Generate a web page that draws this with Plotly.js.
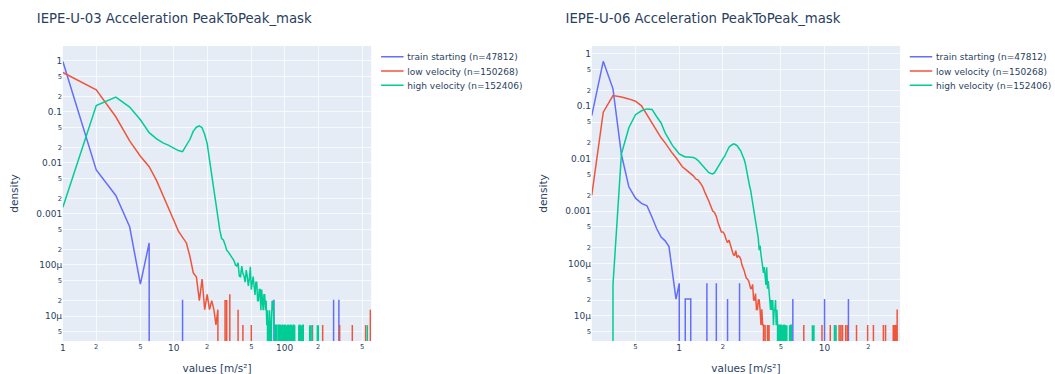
<!DOCTYPE html>
<html>
<head>
<meta charset="utf-8">
<script src="https://cdn.plot.ly/plotly-3.0.1.min.js"></script>
<style>
  html, body { margin: 0; padding: 0; background: #fff; overflow: hidden; }
  #wrap { width: 1407px; height: 499px; transform: scale(0.75); transform-origin: 0 0; }
</style>
</head>
<body>
<div id="wrap"><div id="chart"></div></div>
<script>
// ---------- Titles / labels ----------
const titleLeft = "IEPE-U-03 Acceleration PeakToPeak_mask";
const titleRight = "IEPE-U-06 Acceleration PeakToPeak_mask";
const seriesNames = ["train starting (n=47812)", "low velocity (n=150268)", "high velocity (n=152406)"];
const xTitle = "values [m/s²]";
const yTitle = "density";

// ---------- IEPE-U-03 (left) ----------
const u03TrainX = [1,2,3,4,5,6,7,11,12,13,79,80,81,275,276,277,307,308,309];
const u03TrainY = [0.97,0.0073,0.0023,0.00056,0.000042,0.00027,0,0,0.0000209,0,0,0.0000209,0,0,0.0000209,0,0,0.0000209,0];

const u03LowX = [1,2,3,4,5,6,7,8,9,10,11,12,13,14,15,16,17,18,19,20,21,22,23,24,25,26,
  28,29,30,31,32,33,37,38,39,41,42,43,49,50,51,177,178,179,219,220,221,312,313,314,406,407,408,536,537,538,591,592,593];
const u03LowY = [0.59,0.27,0.08,0.027,0.0135,0.0084,0.0045,0.0023,0.00135,0.00075,0.00046,0.00035,0.00027,0.000145,0.00007,0.000058,0.00002,0.000053,0.0000133,0.0000266,0.0000133,0.00002,0.0000133,0.0000067,0.0000133,0,
  0,0.00002,0.00002,0,0.0000266,0,0,0.0000133,0,0,0.0000067,0,0,0.0000067,0,0,0.0000067,0,0,0.0000067,0,0,0.0000067,0,0,0.0000067,0,0,0.0000067,0,0,0.0000133,0];

const u03HighX = [1,2,3,4,5,6,7,8,9,10,11,12,13,14,15,16,17,18,19,20,21,22,23,24,25,26,27,28,29,30,
  31,32,33,34,35,36,37,38,39,40,41,42,43,44,45,46,47,48,49,50,51,52,53,54,55,56,57,58,59,60,
  61,62,63,64,65,66,67,68,69,70,71,72,73,74,75,76,77,78,79,80,81,82,83,84,85,86,87,88,89,90,
  91,92,93,94,95,96,97,98,99,100,101,102,103,104,105,106,107,108,109,110,111,112,113,114,115,116,117,118,119,120,
  121,122,123,124,
  133,134,135,136,137,138,139,140,141,142,143,144,145,146,147,148,
  167,168,169,170,171,172,175,176,177,196,197,198,199,200,201,202,555,556,557];
const u03HighY = [0.00135,0.133,0.194,0.124,0.07,0.039,0.0295,0.0246,0.022,0.0196,0.0174,0.0166,0.0219,0.029,0.0418,0.05,0.053,0.049,0.036,0.024,
  0.0115,0.0058,0.0029,0.0014,0.00076,0.00048,0.00033,0.00031,0.00025,0.000195,
  0.00018,0.00016,0.000145,0.00013,0.00012,0.0001,0.000095,0.00011,0.00006,0.000059,
  0.000095,0.000068,0.00006,0.000046,0.000079,0.000059,0.000039,0.000053,0.000092,0.000033,
  0.000046,0.000059,0.000039,0.000026,0.000046,0.000046,0.00002,0.00002,0.000033,0.000033,
  0.000013,0.000033,0.00002,0.000013,0.000026,0.000026,0.000013,0.00002,0.0000066,0.000013,
  0,0.0000066,0.000013,0.0000066,0,0.0000066,0.00002,0.000013,0.00002,0.0000066,
  0.0000066,0,0.0000066,0.0000066,0,0.0000066,0.0000066,0.0000066,0,0.0000066,
  0.0000066,0,0.0000066,0,0.0000066,0.0000066,0,0.0000066,0,0.0000066,
  0.0000066,0,0.0000066,0,0.0000066,0,0.0000066,0.0000066,0,0,
  0.0000066,0,0.0000066,0.0000066,0,0.0000066,0,0.0000066,0,0.0000066,
  0.0000066,0,0.0000066,0,
  0,0.0000066,0,0.0000066,0.0000066,0,0.0000066,0,0.0000066,0,0,0.0000066,0,0.0000066,0.0000066,0,
  0,0.0000066,0,0.0000066,0,0,0,0.0000066,0,0,0.0000066,0,0,0,0.0000066,0,0,0.0000066,0];

// ---------- IEPE-U-06 (right) ----------
const u06TrainX = [0.25,0.30,0.35,0.40,0.45,0.50,0.55,0.60,0.65,0.70,0.75,0.80,0.85,0.90,0.95,1.00,1.05,1.10,1.15,1.20,1.25,
  1.50,1.55,1.60,1.75,1.80,1.85,2.10,2.15,2.20,2.55,2.60,2.65,6.00,6.05,6.10,9.95,10.00,10.05,14.55,14.60,14.65];
const u06TrainY = [0.066,0.72,0.215,0.012,0.0029,0.00176,0.0014,0.00126,0.00076,0.00046,0.00032,0.00027,0.00021,0.000066,0.0000209,0.0000418,0,0.0000209,0.0000209,0.0000209,0,
  0,0.0000418,0,0,0.0000418,0,0,0.0000209,0,0,0.0000418,0,0,0.0000209,0,0,0.0000209,0,0,0.0000209,0];

const u06LowX = [0.25,0.30,0.35,0.40,0.45,0.50,0.55,0.60,0.65,0.70,0.75,0.80,0.85,0.90,0.95,1.00,1.05,1.10,1.15,1.20,
  1.25,1.30,1.35,1.40,1.45,1.50,1.55,1.60,1.65,1.70,1.75,1.80,1.85,1.90,1.95,2.00,2.05,2.10,2.15,2.20,
  2.25,2.30,2.35,2.40,2.45,2.50,2.55,2.60,2.65,2.70,2.75,2.80,2.85,2.90,2.95,3.00,3.05,3.10,3.15,3.20,
  3.25,3.30,3.35,3.40,3.45,3.50,3.55,3.60,3.65,3.70,3.75,3.80,3.85,3.90,3.95,4.00,4.05,4.10,4.15,4.20,
  7.15,7.20,7.25,9.55,9.60,9.65,10.90,10.95,11.00,11.75,11.80,11.85,12.55,12.60,12.65,12.90,12.95,13.00,13.25,13.30,13.35,
  13.95,14.00,14.05,14.35,14.40,14.45,16.55,16.60,16.65,19.75,19.80,19.85,21.65,21.70,21.75,25.35,25.40,25.45,26.25,26.30,26.35,
  29.65,29.70,29.75,30.25,30.30,30.35,30.95,31.00,31.05,31.55,31.60,31.65];
const u06LowY = [0.002,0.077,0.16,0.15,0.138,0.125,0.102,0.069,0.047,0.033,0.025,0.02,0.0155,0.0125,0.0104,0.0085,0.007,0.0063,0.0057,0.0051,
  0.0047,0.0041,0.0039,0.0034,0.0029,0.0023,0.0019,0.00154,0.00123,0.001,0.00094,0.00079,0.0006,0.00047,0.0004,0.0004,0.00036,0.00029,0.00025,0.00028,
  0.00022,0.00018,0.00015,0.00014,0.000175,0.00013,0.00014,0.000135,0.00012,0.000094,0.000083,0.000073,0.00006,0.000052,0.00005,0.000047,0.00004,0.0000333,0.0000333,0.00004,
  0.00002,0.00002,0.0000266,0.0000133,0.0000133,0.00002,0.00002,0.0000133,0.0000067,0.0000133,0.0000067,0.0000067,0,0.0000067,0,0,0.0000067,0,0.0000067,0,
  0,0.0000067,0,0,0.0000067,0,0,0.0000067,0,0,0.0000067,0,0,0.0000067,0,0,0.0000067,0,0,0.0000067,0,
  0,0.0000067,0,0,0.0000067,0,0,0.0000067,0,0,0.0000067,0,0,0.0000067,0,0,0.0000067,0,0,0.0000067,0,
  0,0.0000067,0,0,0.0000067,0,0,0.0000067,0,0,0.0000133,0];

const u06HighX = [0.30,0.35,0.40,0.45,0.50,0.55,0.60,0.65,0.70,0.75,0.80,0.85,0.90,0.95,1.00,1.05,1.10,1.15,1.20,1.25,
  1.30,1.35,1.40,1.45,1.50,1.55,1.60,1.65,1.70,1.75,1.80,1.85,1.90,1.95,2.00,2.05,2.10,2.15,2.20,2.25,
  2.30,2.35,2.40,2.45,2.50,2.55,2.60,2.65,2.70,2.75,2.80,2.85,2.90,2.95,3.00,3.05,3.10,3.15,3.20,3.25,
  3.30,3.35,3.40,3.45,3.50,3.55,3.60,3.65,3.70,3.75,3.80,3.85,3.90,3.95,4.00,4.05,4.10,4.15,4.20,4.25,
  4.30,4.35,4.40,4.45,4.50,4.55,4.60,4.65,4.70,4.75,4.80,4.85,4.90,4.95,5.00,5.05,5.10,5.15,5.20,5.25,
  5.30,5.35,5.40,5.45,5.50,5.55,5.70,5.75,5.80,5.85,5.90,5.95,8.15,8.20,8.25,8.30,8.40,8.45,8.50,
  11.65,11.70,11.75,11.95,12.00,12.05];
const u06HighY = [0,0.0000394,0.0123,0.039,0.069,0.082,0.089,0.087,0.063,0.048,0.031,0.0235,0.0177,0.0148,0.0123,0.0115,0.0108,0.0107,0.0107,0.0105,
  0.01,0.0092,0.0082,0.0074,0.0066,0.0059,0.0054,0.0052,0.0051,0.0054,0.0062,0.007,0.008,0.009,0.01,0.011,0.0126,0.0139,0.0166,0.0175,
  0.0183,0.019,0.019,0.0185,0.0177,0.0163,0.0149,0.0141,0.0123,0.0111,0.0096,0.008,0.0061,0.0048,0.0038,0.003,0.0025,0.0019,0.0015,0.0011,
  0.00086,0.00066,0.0005,0.0004,0.0003,0.00018,0.00022,0.00015,0.00011,0.00009,0.000066,0.000085,0.000052,0.000039,0.000085,0.000033,0.000046,0.000026,0.00002,0.000013,
  0.00002,0.000013,0.00002,0.0000066,0.000013,0.000013,0.00002,0.0000066,0.000013,0.0000066,0,0.0000066,0.0000066,0,0.0000066,0.0000066,0,0.0000066,0,0.0000066,
  0.0000066,0,0.0000066,0,0.0000066,0,0,0.0000066,0,0.0000066,0.0000066,0,0,0.0000066,0.0000066,0,0,0.0000066,0,
  0,0.0000066,0,0,0.0000066,0];

// ---------- Figure ----------
const colors = ["#636efa", "#EF553B", "#00cc96"];
const W = 1407, H = 499;
const FONT = '"DejaVu Sans", Verdana, sans-serif';

function tr(x, y, i, xa, ya, leg) {
  return { type: "scatter", mode: "lines", x: x, y: y, name: seriesNames[i],
    xaxis: xa, yaxis: ya, legend: leg, line: { color: colors[i], width: 2 } };
}

const data = [
  tr(u03TrainX, u03TrainY, 0, "x", "y", "legend"),
  tr(u03LowX, u03LowY, 1, "x", "y", "legend"),
  tr(u03HighX, u03HighY, 2, "x", "y", "legend"),
  tr(u06TrainX, u06TrainY, 0, "x2", "y2", "legend2"),
  tr(u06LowX, u06LowY, 1, "x2", "y2", "legend2"),
  tr(u06HighX, u06HighY, 2, "x2", "y2", "legend2")
];

const axBase = { type: "log", dtick: "D2", gridcolor: "white", linecolor: "white", zeroline: false,
  ticks: "", showline: false, automargin: false, tickfont: { size: 12 } };

const yDom = [(H - 454.7) / H, (H - 61.3) / H];

const layout = {
  width: W, height: H, autosize: false,
  margin: { l: 0, r: 0, t: 0, b: 0 },
  paper_bgcolor: "white", plot_bgcolor: "#E5ECF6",
  font: { family: FONT, color: "#2a3f5f", size: 12 },
  showlegend: true,
  xaxis: Object.assign({}, axBase, { domain: [84 / W, 496 / W], range: [0, 2.78], anchor: "y",
    title: { text: xTitle, font: { size: 14 } } }),
  yaxis: Object.assign({}, axBase, { domain: yDom, range: [-5.49, 0.29], anchor: "x",
    title: { text: yTitle, font: { size: 14 }, standoff: 20 } }),
  xaxis2: Object.assign({}, axBase, { domain: [790.7 / W, 1202.7 / W], range: [-0.602, 1.52], anchor: "y2",
    title: { text: xTitle, font: { size: 14 } } }),
  yaxis2: Object.assign({}, axBase, { domain: yDom, range: [-5.48, 0.15], anchor: "x2",
    title: { text: yTitle, font: { size: 14 }, standoff: 20 } }),
  legend: { x: 504.2 / W, y: yDom[1], xanchor: "left", yanchor: "top", bgcolor: "rgba(0,0,0,0)", font: { size: 12 } },
  legend2: { x: 1210.9 / W, y: yDom[1], xanchor: "left", yanchor: "top", bgcolor: "rgba(0,0,0,0)", font: { size: 12 } },
  annotations: [
    { text: titleLeft, xref: "paper", yref: "paper", x: 46.7 / W, y: 1 - 25.3 / H, xanchor: "left", yanchor: "middle",
      showarrow: false, font: { size: 17.7 } },
    { text: titleRight, xref: "paper", yref: "paper", x: 753.3 / W, y: 1 - 25.3 / H, xanchor: "left", yanchor: "middle",
      showarrow: false, font: { size: 17.7 } }
  ]
};

Plotly.newPlot("chart", data, layout, { displayModeBar: false, staticPlot: true });
</script>
</body>
</html>
